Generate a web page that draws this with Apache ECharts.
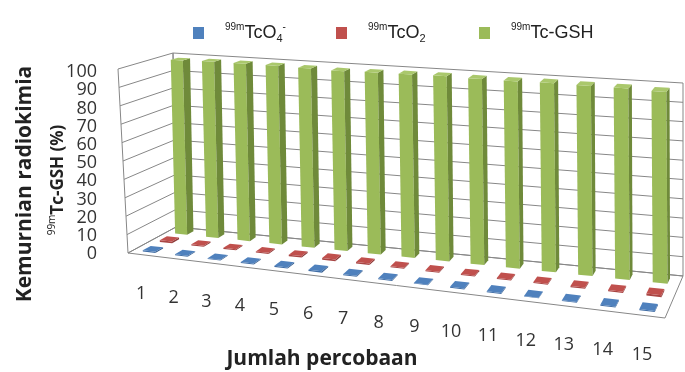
<!DOCTYPE html>
<html>
<head>
<meta charset="utf-8">
<script src="https://cdn.jsdelivr.net/npm/echarts@6/dist/echarts.min.js"></script>
<style>
  html, body { margin: 0; padding: 0; background: #fff; }
  #myChart { width: 685px; height: 372px; }
</style>
</head>
<body>
<div id="myChart"></div>
<script>
// data
const categories = ['1', '2', '3', '4', '5', '6', '7', '8', '9', '10', '11', '12', '13', '14', '15'];
const yTicks = [0, 10, 20, 30, 40, 50, 60, 70, 80, 90, 100];
const tco4 = [0.6, 0.5, 0.5, 0.5, 0.6, 0.7, 0.5, 0.5, 0.3, 0.5, 0.5, 0.3, 0.4, 0.5, 0.6];
const tco2 = [1.0, 0.6, 0.6, 0.6, 0.8, 1.0, 0.8, 0.6, 0.5, 0.6, 0.6, 0.5, 0.6, 0.6, 1.0];
const tcgsh = [98.4, 98.9, 98.9, 98.9, 98.6, 98.3, 98.7, 98.9, 99.2, 98.9, 98.9, 99.2, 99.0, 98.9, 98.4];
const seriesNames = ['99mTcO4-', '99mTcO2', '99mTc-GSH'];

// the 3d box (walls + floor) as it lies on the page
const box = {
  FLB: [128, 253], FRB: [665, 318], BLB: [176, 227], BRB: [683, 276],
  FLT: [118, 69], FRT: [660, 114], BLT: [173, 53], BRT: [683, 83]
};
const rU = 1.118, rW = 0.85;   // perspective along the categories / along the depth
const barW = 0.39, barD = 0.075;

function persp(a, r) { return a / (a + r * (1 - a)); }
function lerp(p, q, t) { return [p[0] + (q[0] - p[0]) * t, p[1] + (q[1] - p[1]) * t]; }
function project(u, w, h) {
  const s = persp(u, rU), t = persp(w, rW);
  const b = lerp(lerp(box.FLB, box.FRB, s), lerp(box.BLB, box.BRB, s), t);
  const tp = lerp(lerp(box.FLT, box.FRT, s), lerp(box.BLT, box.BRT, s), t);
  return lerp(b, tp, h);
}

const n = categories.length;
const lineCol = '#878787';

function wallsItem(params, api) {
  const pt = (u, w, h) => api.coord(project(u, w, h));
  const ch = [];
  const poly = (pts) => ch.push({ type: 'polygon', shape: { points: pts }, style: { fill: 'none', stroke: lineCol, lineWidth: 1 } });
  const line = (a, b) => ch.push({ type: 'line', shape: { x1: a[0], y1: a[1], x2: b[0], y2: b[1] }, style: { stroke: lineCol, lineWidth: 1 } });
  poly([pt(0, 0, 0), pt(1, 0, 0), pt(1, 1, 0), pt(0, 1, 0)]);
  poly([pt(0, 0, 0), pt(0, 1, 0), pt(0, 1, 1), pt(0, 0, 1)]);
  poly([pt(0, 1, 0), pt(1, 1, 0), pt(1, 1, 1), pt(0, 1, 1)]);
  yTicks.forEach(v => {
    const h = v / 100;
    if (h <= 0 || h >= 1) return;
    line(pt(0, 0, h), pt(0, 1, h));
    line(pt(0, 1, h), pt(1, 1, h));
  });
  return { type: 'group', children: ch };
}

function barItem(row, c) {
  return function (params, api) {
    const i = api.value(0), h = api.value(1) / 100;
    const pt = (u, w, hh) => api.coord(project(u, w, hh));
    const u0 = (i + 0.5 - barW / 2) / n, u1 = (i + 0.5 + barW / 2) / n;
    const wc = (row + 0.5) / 3, w0 = wc - barD, w1 = wc + barD;
    return {
      type: 'group',
      children: [
        { type: 'polygon', shape: { points: [pt(u0, w0, 0), pt(u1, w0, 0), pt(u1, w0, h), pt(u0, w0, h)] }, style: { fill: c.front } },
        { type: 'polygon', shape: { points: [pt(u1, w0, 0), pt(u1, w1, 0), pt(u1, w1, h), pt(u1, w0, h)] }, style: { fill: c.side } },
        { type: 'polygon', shape: { points: [pt(u0, w0, h), pt(u1, w0, h), pt(u1, w1, h), pt(u0, w1, h)] }, style: { fill: c.top } }
      ]
    };
  };
}

function labelItem(params, api) {
  const i = api.value(0);
  const p = api.coord(project((i + 0.5) / n, 0, 0));
  return {
    type: 'text',
    x: p[0] - 3, y: p[1] + 39,
    style: { text: categories[i], font: '18px "Open Sans"', fill: '#333', align: 'center', verticalAlign: 'middle' }
  };
}

const legendText = {
  '99mTcO4-': '{sup|99m}{b|TcO}{sub|4}{sup|-}',
  '99mTcO2': '{sup|99m}{b|TcO}{sub|2}',
  '99mTc-GSH': '{sup|99m}{b|Tc-GSH}'
};
const legendLeft = [193, 336, 479];

let myChart = echarts.init(document.getElementById('myChart'));
myChart.setOption({
  animation: false,
  legend: seriesNames.map((name, k) => ({
    data: [name],
    left: legendLeft[k],
    top: 22,
    padding: 0,
    icon: 'rect',
    itemWidth: 11,
    itemHeight: 12,
    formatter: nm => legendText[nm],
    textStyle: {
      padding: [0, 0, 0, 16],
      fontFamily: '"Liberation Sans"',
      color: '#222',
      rich: {
        b: { fontSize: 18, fontFamily: '"Liberation Sans"', color: '#222', lineHeight: 22 },
        sup: { fontSize: 10, fontFamily: '"Liberation Sans"', color: '#222', verticalAlign: 'top', lineHeight: 22 },
        sub: { fontSize: 11, fontFamily: '"Liberation Sans"', color: '#222', verticalAlign: 'bottom', lineHeight: 22 }
      }
    }
  })),
  graphic: [
    {
      type: 'text', x: 25, y: 184, rotation: Math.PI / 2,
      style: { text: 'Kemurnian radiokimia', font: 'bold 21px "Open Sans"', fill: '#222', align: 'center', verticalAlign: 'middle' }
    },
    {
      type: 'text', x: 58, y: 180, rotation: Math.PI / 2,
      style: {
        text: '{s|99m}{b|Tc-GSH (%)}', align: 'center', verticalAlign: 'middle',
        rich: {
          s: { font: '10px "Open Sans"', fill: '#222', verticalAlign: 'top', lineHeight: 22 },
          b: { font: 'bold 17px "Open Sans"', fill: '#222', lineHeight: 22 }
        }
      }
    },
    {
      type: 'text', x: 322, y: 359,
      style: { text: 'Jumlah percobaan', font: 'bold 21px "Open Sans"', fill: '#222', align: 'center', verticalAlign: 'middle' }
    }
  ],
  grid: [
    { left: 100, top: 72, width: 10, height: 182 },
    { left: 0, top: 0, right: 0, bottom: 0 }
  ],
  xAxis: [
    { gridIndex: 0, type: 'value', show: false },
    { gridIndex: 1, type: 'value', min: 0, max: 685, show: false }
  ],
  yAxis: [
    {
      gridIndex: 0, type: 'value', min: 0, max: 100, interval: 10,
      axisLine: { show: false }, axisTick: { show: false }, splitLine: { show: false },
      axisLabel: { margin: 3, fontSize: 18, fontFamily: '"Open Sans"', color: '#333' }
    },
    { gridIndex: 1, type: 'value', min: 0, max: 372, inverse: true, show: false }
  ],
  series: [
    { type: 'custom', name: 'walls', xAxisIndex: 1, yAxisIndex: 1, z: 1, clip: false, silent: true,
      renderItem: wallsItem, data: [[0]] },
    { type: 'custom', name: seriesNames[2], xAxisIndex: 1, yAxisIndex: 1, z: 2, clip: false,
      itemStyle: { color: '#9BBB59' },
      renderItem: barItem(2, { front: '#9BBB59', side: '#6F8A3A', top: '#AAC86C' }),
      data: tcgsh.map((v, i) => [i, v]) },
    { type: 'custom', name: seriesNames[1], xAxisIndex: 1, yAxisIndex: 1, z: 3, clip: false,
      itemStyle: { color: '#C0504D' },
      renderItem: barItem(1, { front: '#A94543', side: '#8E3A38', top: '#C0504D' }),
      data: tco2.map((v, i) => [i, v]) },
    { type: 'custom', name: seriesNames[0], xAxisIndex: 1, yAxisIndex: 1, z: 4, clip: false,
      itemStyle: { color: '#4F81BD' },
      renderItem: barItem(0, { front: '#416EA6', side: '#355C8C', top: '#4F81BD' }),
      data: tco4.map((v, i) => [i, v]) },
    { type: 'custom', name: 'labels', xAxisIndex: 1, yAxisIndex: 1, z: 5, clip: false, silent: true,
      renderItem: labelItem, data: categories.map((c, i) => [i]) }
  ]
});
</script>
</body>
</html>
